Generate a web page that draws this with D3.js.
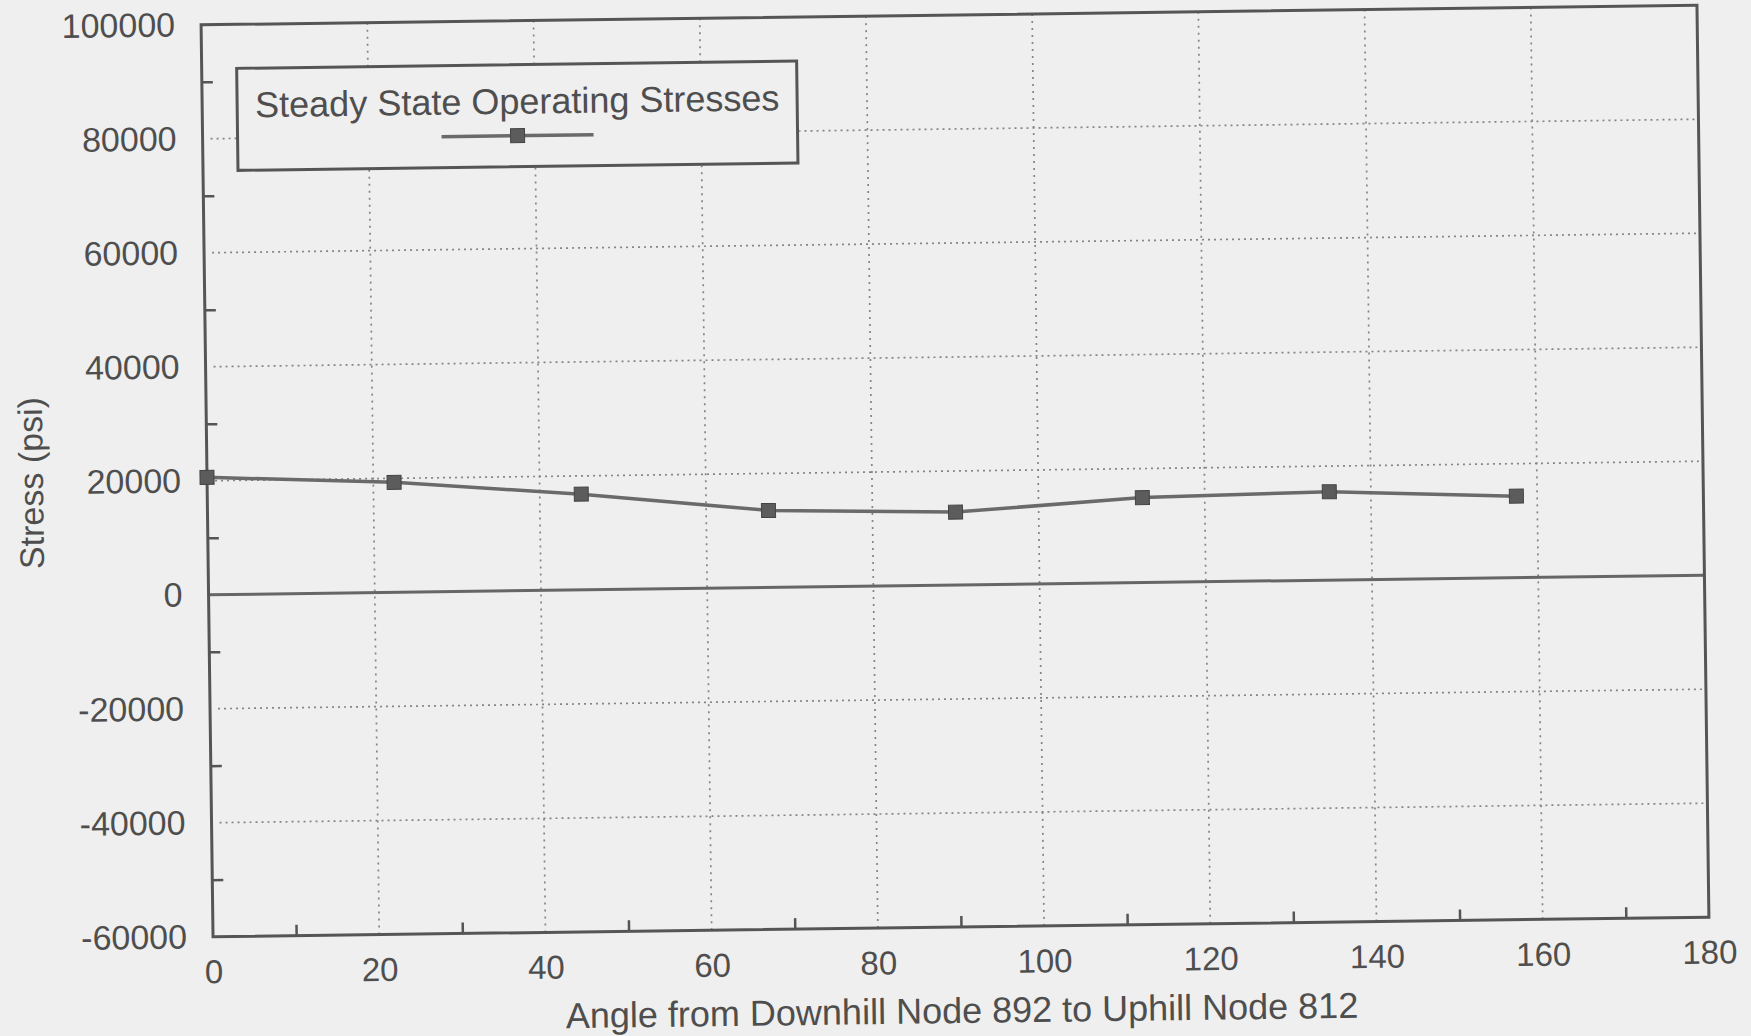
<!DOCTYPE html>
<html>
<head>
<meta charset="utf-8">
<script src="https://cdn.jsdelivr.net/npm/d3@7"></script>
<style>
  body { margin: 0; background: #efefef; }
  svg { display: block; }
  text { font-family: "Liberation Sans", Arial, Helvetica, sans-serif; fill: #4e4e4e; }
</style>
</head>
<body>
<svg id="chart"></svg>
<script>
// angle (deg) vs stress (psi)
var angles = [0, 22.5, 45, 67.5, 90, 112.5, 135, 157.5];
var stress = [20600, 19300, 16800, 13500, 12800, 14900, 15500, 14300];

var xTicks = [0, 20, 40, 60, 80, 100, 120, 140, 160, 180];
var xMinor = [10, 30, 50, 70, 90, 110, 130, 150, 170];
var yTicks = [-60000, -40000, -20000, 0, 20000, 40000, 60000, 80000, 100000];
var yMinor = [-50000, -30000, -10000, 10000, 30000, 50000, 70000, 90000];

var seriesName = "Steady State Operating Stresses";
var xTitle = "Angle from Downhill Node 892 to Uphill Node 812";
var yTitle = "Stress (psi)";

var W = 1751, H = 1036;
var margin = { left: 207, top: 15 };
var width = 1496, height = 912;
var ink = "#555";

var svg = d3.select("#chart").attr("width", W).attr("height", H);
svg.append("rect").attr("width", W).attr("height", H).attr("fill", "#efefef");

// the scan is a little tilted, so tilt the whole chart the same way
var root = svg.append("g")
  .attr("transform", "rotate(-0.75, 955, 471)");

var g = root.append("g")
  .attr("transform", "translate(" + margin.left + "," + margin.top + ")");

var x = d3.scaleLinear().domain([0, 180]).range([0, width]);
var y = d3.scaleLinear().domain([-60000, 100000]).range([height, 0]);

// dotted grid
g.append("g").selectAll("line")
  .data(xTicks.filter(function (d) { return d > 0 && d < 180; }))
  .enter().append("line")
  .attr("x1", function (d) { return x(d); })
  .attr("x2", function (d) { return x(d); })
  .attr("y1", 0).attr("y2", height)
  .attr("stroke", "#858585").attr("stroke-width", 1.7)
  .attr("stroke-dasharray", "2,5");

g.append("g").selectAll("line")
  .data(yTicks.filter(function (d) { return d != 0 && d > -60000 && d < 100000; }))
  .enter().append("line")
  .attr("x1", 8).attr("x2", width)
  .attr("y1", function (d) { return y(d); })
  .attr("y2", function (d) { return y(d); })
  .attr("stroke", "#858585").attr("stroke-width", 1.7)
  .attr("stroke-dasharray", "2,4");

// zero line
g.append("line")
  .attr("x1", 0).attr("x2", width)
  .attr("y1", y(0)).attr("y2", y(0))
  .attr("stroke", "#666").attr("stroke-width", 3);

// minor ticks, pointing inwards
var xm = g.append("g")
  .attr("transform", "translate(0," + height + ")")
  .call(d3.axisBottom(x).tickValues(xMinor).tickSize(-11).tickFormat(""));
xm.select(".domain").remove();
xm.selectAll("line").attr("stroke", ink).attr("stroke-width", 2.5);

var ym = g.append("g")
  .call(d3.axisLeft(y).tickValues(yMinor).tickSize(-11).tickFormat(""));
ym.select(".domain").remove();
ym.selectAll("line").attr("stroke", ink).attr("stroke-width", 2.5);

// tick labels (plain hyphen for negatives, like the original)
var xa = g.append("g")
  .attr("transform", "translate(0," + height + ")")
  .call(d3.axisBottom(x).tickValues(xTicks).tickSize(0).tickPadding(23));
xa.select(".domain").remove();
xa.selectAll("text").style("font-size", "33px").attr("fill", "#4e4e4e");

var ya = g.append("g")
  .call(d3.axisLeft(y).tickValues(yTicks).tickSize(0).tickPadding(26)
    .tickFormat(function (d) { return String(d); }));
ya.select(".domain").remove();
ya.selectAll("text").style("font-size", "34px").attr("fill", "#4e4e4e");

// frame
g.append("rect")
  .attr("width", width).attr("height", height)
  .attr("fill", "none").attr("stroke", ink).attr("stroke-width", 3);

// series
var pts = angles.map(function (a, i) { return { a: a, s: stress[i] }; });

g.append("path")
  .datum(pts)
  .attr("fill", "none").attr("stroke", "#6a6a6a").attr("stroke-width", 3.5)
  .attr("d", d3.line().x(function (d) { return x(d.a); }).y(function (d) { return y(d.s); }));

g.append("g").selectAll("rect")
  .data(pts)
  .enter().append("rect")
  .attr("x", function (d) { return x(d.a) - 7; })
  .attr("y", function (d) { return y(d.s) - 7; })
  .attr("width", 14).attr("height", 14)
  .attr("fill", "#5c5c5c").attr("stroke", "#444").attr("stroke-width", 1);

// legend
var lg = g.append("g").attr("transform", "translate(35,44)");
lg.append("rect")
  .attr("width", 560).attr("height", 102)
  .attr("fill", "#efefef").attr("stroke", ink).attr("stroke-width", 3);
lg.append("text")
  .attr("x", 18).attr("y", 49)
  .style("font-size", "36px")
  .text(seriesName);
lg.append("line")
  .attr("x1", 204).attr("x2", 356).attr("y1", 71).attr("y2", 71)
  .attr("stroke", "#6a6a6a").attr("stroke-width", 3.5);
lg.append("rect")
  .attr("x", 273).attr("y", 64).attr("width", 14).attr("height", 14)
  .attr("fill", "#5c5c5c").attr("stroke", "#444").attr("stroke-width", 1);

// axis titles
g.append("text")
  .attr("x", width / 2).attr("y", height + 96)
  .attr("text-anchor", "middle")
  .style("font-size", "36px")
  .text(xTitle);

g.append("text")
  .attr("transform", "translate(" + (31 - margin.left) + "," + (471 - margin.top) + ") rotate(-90)")
  .attr("text-anchor", "middle")
  .attr("dy", "0.35em")
  .style("font-size", "34px")
  .text(yTitle);
</script>
</body>
</html>
